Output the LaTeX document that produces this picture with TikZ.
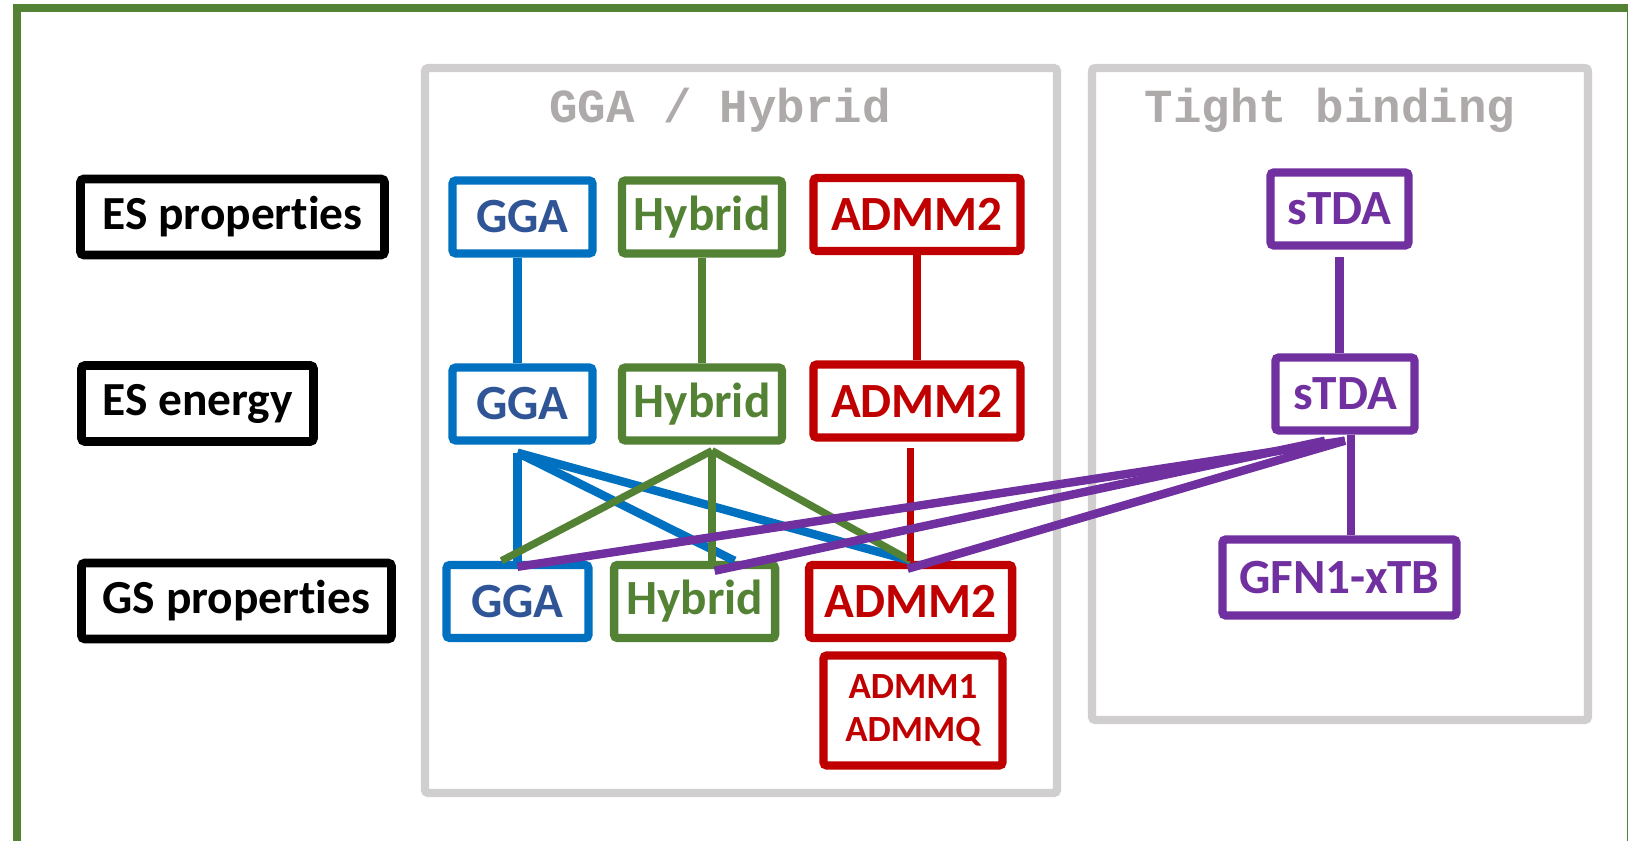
\documentclass[tikz,border=0pt]{standalone}
\usepackage{fontspec}
\setmainfont{Carlito}[Ligatures={NoCommon}]
\newfontfamily\titlefont{Liberation Mono}
\usetikzlibrary{positioning}
\definecolor{GgaColor}{RGB}{0,112,192}
\definecolor{GgaText}{RGB}{47,85,151}
\definecolor{HybridColor}{RGB}{84,130,53}
\definecolor{AdmmColor}{RGB}{192,0,0}
\definecolor{TbColor}{RGB}{112,48,160}
\definecolor{FrameColor}{RGB}{208,206,206}
\definecolor{TitleColor}{RGB}{174,170,170}
\tikzset{
  level box/.style={draw=black, line width=2.5pt, rounded corners=1pt, minimum height=0.76cm, inner sep=0pt, font=\fontsize{13.5}{16}\selectfont\bfseries},
  method box/.style={line width=2.4pt, rounded corners=1pt, minimum height=0.73cm, inner sep=0pt, font=\fontsize{14}{17}\selectfont\bfseries},
  gga box/.style={method box, draw=GgaColor, text=GgaText, minimum width=1.40cm},
  hybrid box/.style={method box, draw=HybridColor, text=HybridColor, minimum width=1.60cm},
  admm box/.style={method box, draw=AdmmColor, text=AdmmColor, minimum width=2.07cm},
  tb box/.style={method box, draw=TbColor, text=TbColor, minimum width=1.38cm}
}
\tikzset{
  group frame/.style={draw=FrameColor, line width=2.4pt, rounded corners=1pt},
  group title/.style={text=TitleColor, anchor=base, font=\fontsize{13.5}{16}\selectfont\titlefont\bfseries},
  gga link/.style={GgaColor, line width=2.4pt},
  hybrid link/.style={HybridColor, line width=2.1pt},
  admm link/.style={AdmmColor, line width=2.1pt},
  tb link/.style={TbColor, line width=2.4pt}
}

\begin{document}
\begin{tikzpicture}
    \useasboundingbox (0,0) rectangle (16.28,8.41);
    \clip (0,0) rectangle (16.28,8.41);

    % Outer frame
    \draw[HybridColor, line width=2.3pt] (0.17,-0.05) rectangle (16.31,8.33);

    % Method groups
    \draw[group frame] (4.25,0.48) rectangle (10.57,7.73);
    \node[group title] (gtitle) at (7.20,7.18) {GGA / Hybrid};
    \draw[group frame] (10.92,1.21) rectangle (15.88,7.73);
    \node[group title] (ttitle) at (13.30,7.18) {Tight binding};

    % Levels
    \node[level box, minimum width=3.04cm] (esprop) at (2.325,6.24) {ES properties};
    \node[level box, minimum width=2.32cm] (esener) at (1.975,4.375) {ES energy};
    \node[level box, minimum width=3.10cm] (gsprop) at (2.365,2.40) {GS properties};

    % ES properties row
    \node[gga box] (ggaT) at (5.225,6.24) {GGA};
    \node[hybrid box] (hybT) at (7.02,6.24) {Hybrid};
    \node[admm box] (admT) at (9.17,6.265) {ADMM2};
    \node[tb box] (stdaT) at (13.395,6.32) {sTDA};

    % ES energy row
    \node[gga box] (ggaM) at (5.225,4.37) {GGA};
    \node[hybrid box] (hybM) at (7.02,4.37) {Hybrid};
    \node[admm box] (admM) at (9.17,4.40) {ADMM2};
    \node[tb box, minimum width=1.39cm] (stdaM) at (13.45,4.47) {sTDA};

    % GS properties row
    \node[gga box, minimum width=1.42cm] (ggaB) at (5.175,2.395) {GGA};
    \node[hybrid box, minimum width=1.61cm] (hybB) at (6.946,2.395) {Hybrid};
    \node[admm box, minimum width=2.03cm] (admB) at (9.106,2.395) {ADMM2};
    \node[admm box, minimum width=1.79cm, minimum height=1.10cm, align=center,
          font=\fontsize{10.5}{12.3}\selectfont\bfseries] (admX) at (9.13,1.305) {ADMM1\\ADMMQ};
    \node[tb box, minimum width=2.34cm, minimum height=0.76cm] (gfn) at (13.395,2.635) {GFN1-xTB};

    % GGA links
    \draw[gga link] (ggaT.south -| ggaB.north) -- (ggaM.north -| ggaB.north);
    \draw[gga link] ([yshift=-0.08cm]ggaM.south -| ggaB.north) -- (ggaB.north);
    \draw[gga link] ([yshift=-0.08cm]ggaM.south -| ggaB.north) -- ([xshift=4mm]hybB.north);
    \draw[gga link] ([yshift=-0.08cm]ggaM.south -| ggaB.north) -- (admB.north);

    % Hybrid links
    \draw[hybrid link] (hybT.south) -- (hybM.north);
    \draw[hybrid link] ([xshift=1mm,yshift=-0.06cm]hybM.south) -- ([xshift=-1.6mm]ggaB.north);
    \draw[hybrid link] ([xshift=1mm,yshift=-0.06cm]hybM.south) -- ([xshift=1mm]hybM.south |- hybB.north);
    \draw[hybrid link] ([xshift=1mm,yshift=-0.06cm]hybM.south) -- (admB.north);

    % ADMM links
    \draw[admm link] (admT.south) -- (admM.north);
    \draw[admm link] ([yshift=-0.06cm]admM.south -| admB.north) -- (admB.north);

    % Tight binding links
    \draw[tb link] ([yshift=-0.07cm]stdaT.south) -- (stdaT.south |- stdaM.north);
    \draw[tb link] ([xshift=0.6mm]stdaM.south) -- ([xshift=0.6mm]stdaM.south |- gfn.north);
    \draw[tb link] ([yshift=-0.06cm]stdaM.south) -- ([yshift=-0.06cm]ggaB.north);
    \draw[tb link] ([xshift=-2mm,yshift=-0.06cm]stdaM.south) -- ([xshift=2mm,yshift=-0.1cm]hybB.north);
    \draw[tb link] ([yshift=-0.06cm]stdaM.south) -- ([xshift=-0.3mm,yshift=-0.08cm]admB.north);
\end{tikzpicture}
\end{document}
